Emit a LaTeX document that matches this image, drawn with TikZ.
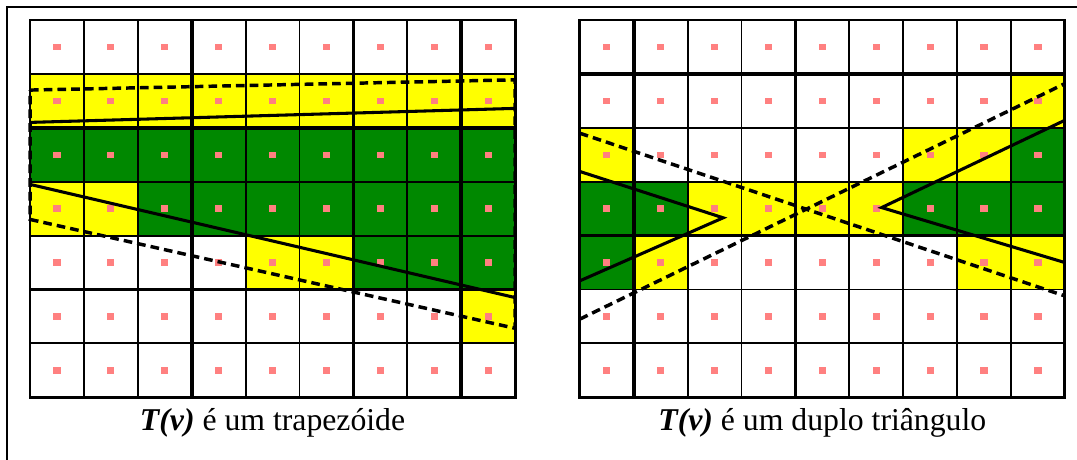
\documentclass[tikz,border=0pt]{standalone}
\usepackage{fontspec}
\setmainfont{Liberation Serif}
\definecolor{cyel}{RGB}{255,255,0}
\definecolor{cgrn}{RGB}{0,136,0}
\definecolor{cpink}{RGB}{255,128,128}
\tikzset{dot/.style={rectangle,fill=cpink,inner sep=0pt,minimum width=5.4pt,minimum height=4.8pt},
         thinln/.style={line width=1.4pt},
        thickln/.style={line width=2.8pt},
         bordln/.style={line width=2.2pt},
        solidln/.style={line width=2.3pt},
         dashln/.style={line width=2.6pt,dash pattern=on 6.5pt off 3.8pt},
            frm/.style={line width=1.3pt},
         captxt/.style={anchor=base,inner sep=0pt,font=\fontsize{23.8}{28}\selectfont}
         }

\begin{document}
\begin{tikzpicture}[x=40.425pt,y=-40.425pt]
\useasboundingbox (-0.557,-0.371) rectangle (19.425,8.163);
\draw[frm] (-0.433,8.163) -- (-0.433,-0.241) -- (19.425,-0.241);

            \begin{scope}
            \foreach \a/\b/\r/\f in {0/9/1/cyel,0/9/2/cgrn,0/2/3/cyel,2/9/3/cgrn,4/6/4/cyel,6/9/4/cgrn,8/9/5/cyel}
            \fill[\f] (\a,\r) rectangle (\b,\r+1);
            \foreach \i in {0,...,8}
             \foreach \j in {0,...,6}
              \node[dot] (dL\i\j) at (\i+0.5,\j+0.5) {};
            \foreach \i in {1,...,8} \draw[thinln] (\i,0) -- (\i,7);
            \foreach \j in {1,...,6} \draw[thinln] (0,\j) -- (9,\j);
            \foreach \i in {3,6,8} \draw[thickln] (\i,0) -- (\i,7);
            \foreach \j in {2,5} \draw[thickln] (0,\j) -- (9,\j);
            \draw[bordln] (0,0) rectangle (9,7);
            \draw[solidln] (0,1.9) -- (9,1.64);
            \draw[solidln] (0,3.05) -- (9,5.15);
            \draw[dashln] (0,1.3) -- (9,1.11) -- (9,5.72) -- (0,3.7) -- cycle;
            \node[captxt] (capL) at (4.5,7.607) {\textbf{\textit{T(v)}} é um trapezóide};
            \end{scope}

            \begin{scope}[xshift=10.2*40.425pt]
            \foreach \a/\b/\r/\f in {8/9/1/cyel,0/1/2/cyel,6/8/2/cyel,8/9/2/cgrn,0/2/3/cgrn,2/6/3/cyel,6/9/3/cgrn,0/1/4/cgrn,1/2/4/cyel,7/9/4/cyel}
            \fill[\f] (\a,\r) rectangle (\b,\r+1);
            \foreach \i in {0,...,8}
             \foreach \j in {0,...,6}
              \node[dot] (dR\i\j) at (\i+0.5,\j+0.5) {};
            \foreach \i in {1,...,8} \draw[thinln] (\i,0) -- (\i,7);
            \foreach \j in {1,...,6} \draw[thinln] (0,\j) -- (9,\j);
            \foreach \i in {1,4} \draw[thickln] (\i,0) -- (\i,7);
            \foreach \j in {1,4} \draw[thickln] (0,\j) -- (9,\j);
            \draw[bordln] (0,0) rectangle (9,7);
            \draw[solidln] (0,2.81) -- (2.66,3.67) -- (0,4.84);
            \draw[solidln] (9,1.86) -- (5.6,3.48) -- (9,4.5);
            \draw[dashln] (0,2.1) -- (9,5.12);
            \draw[dashln] (0,5.55) -- (9,1.18);
            \node[captxt] (capR) at (4.5,7.607) {\textbf{\textit{T(v)}} é um duplo triângulo};
            \end{scope}

\end{tikzpicture}
\end{document}
